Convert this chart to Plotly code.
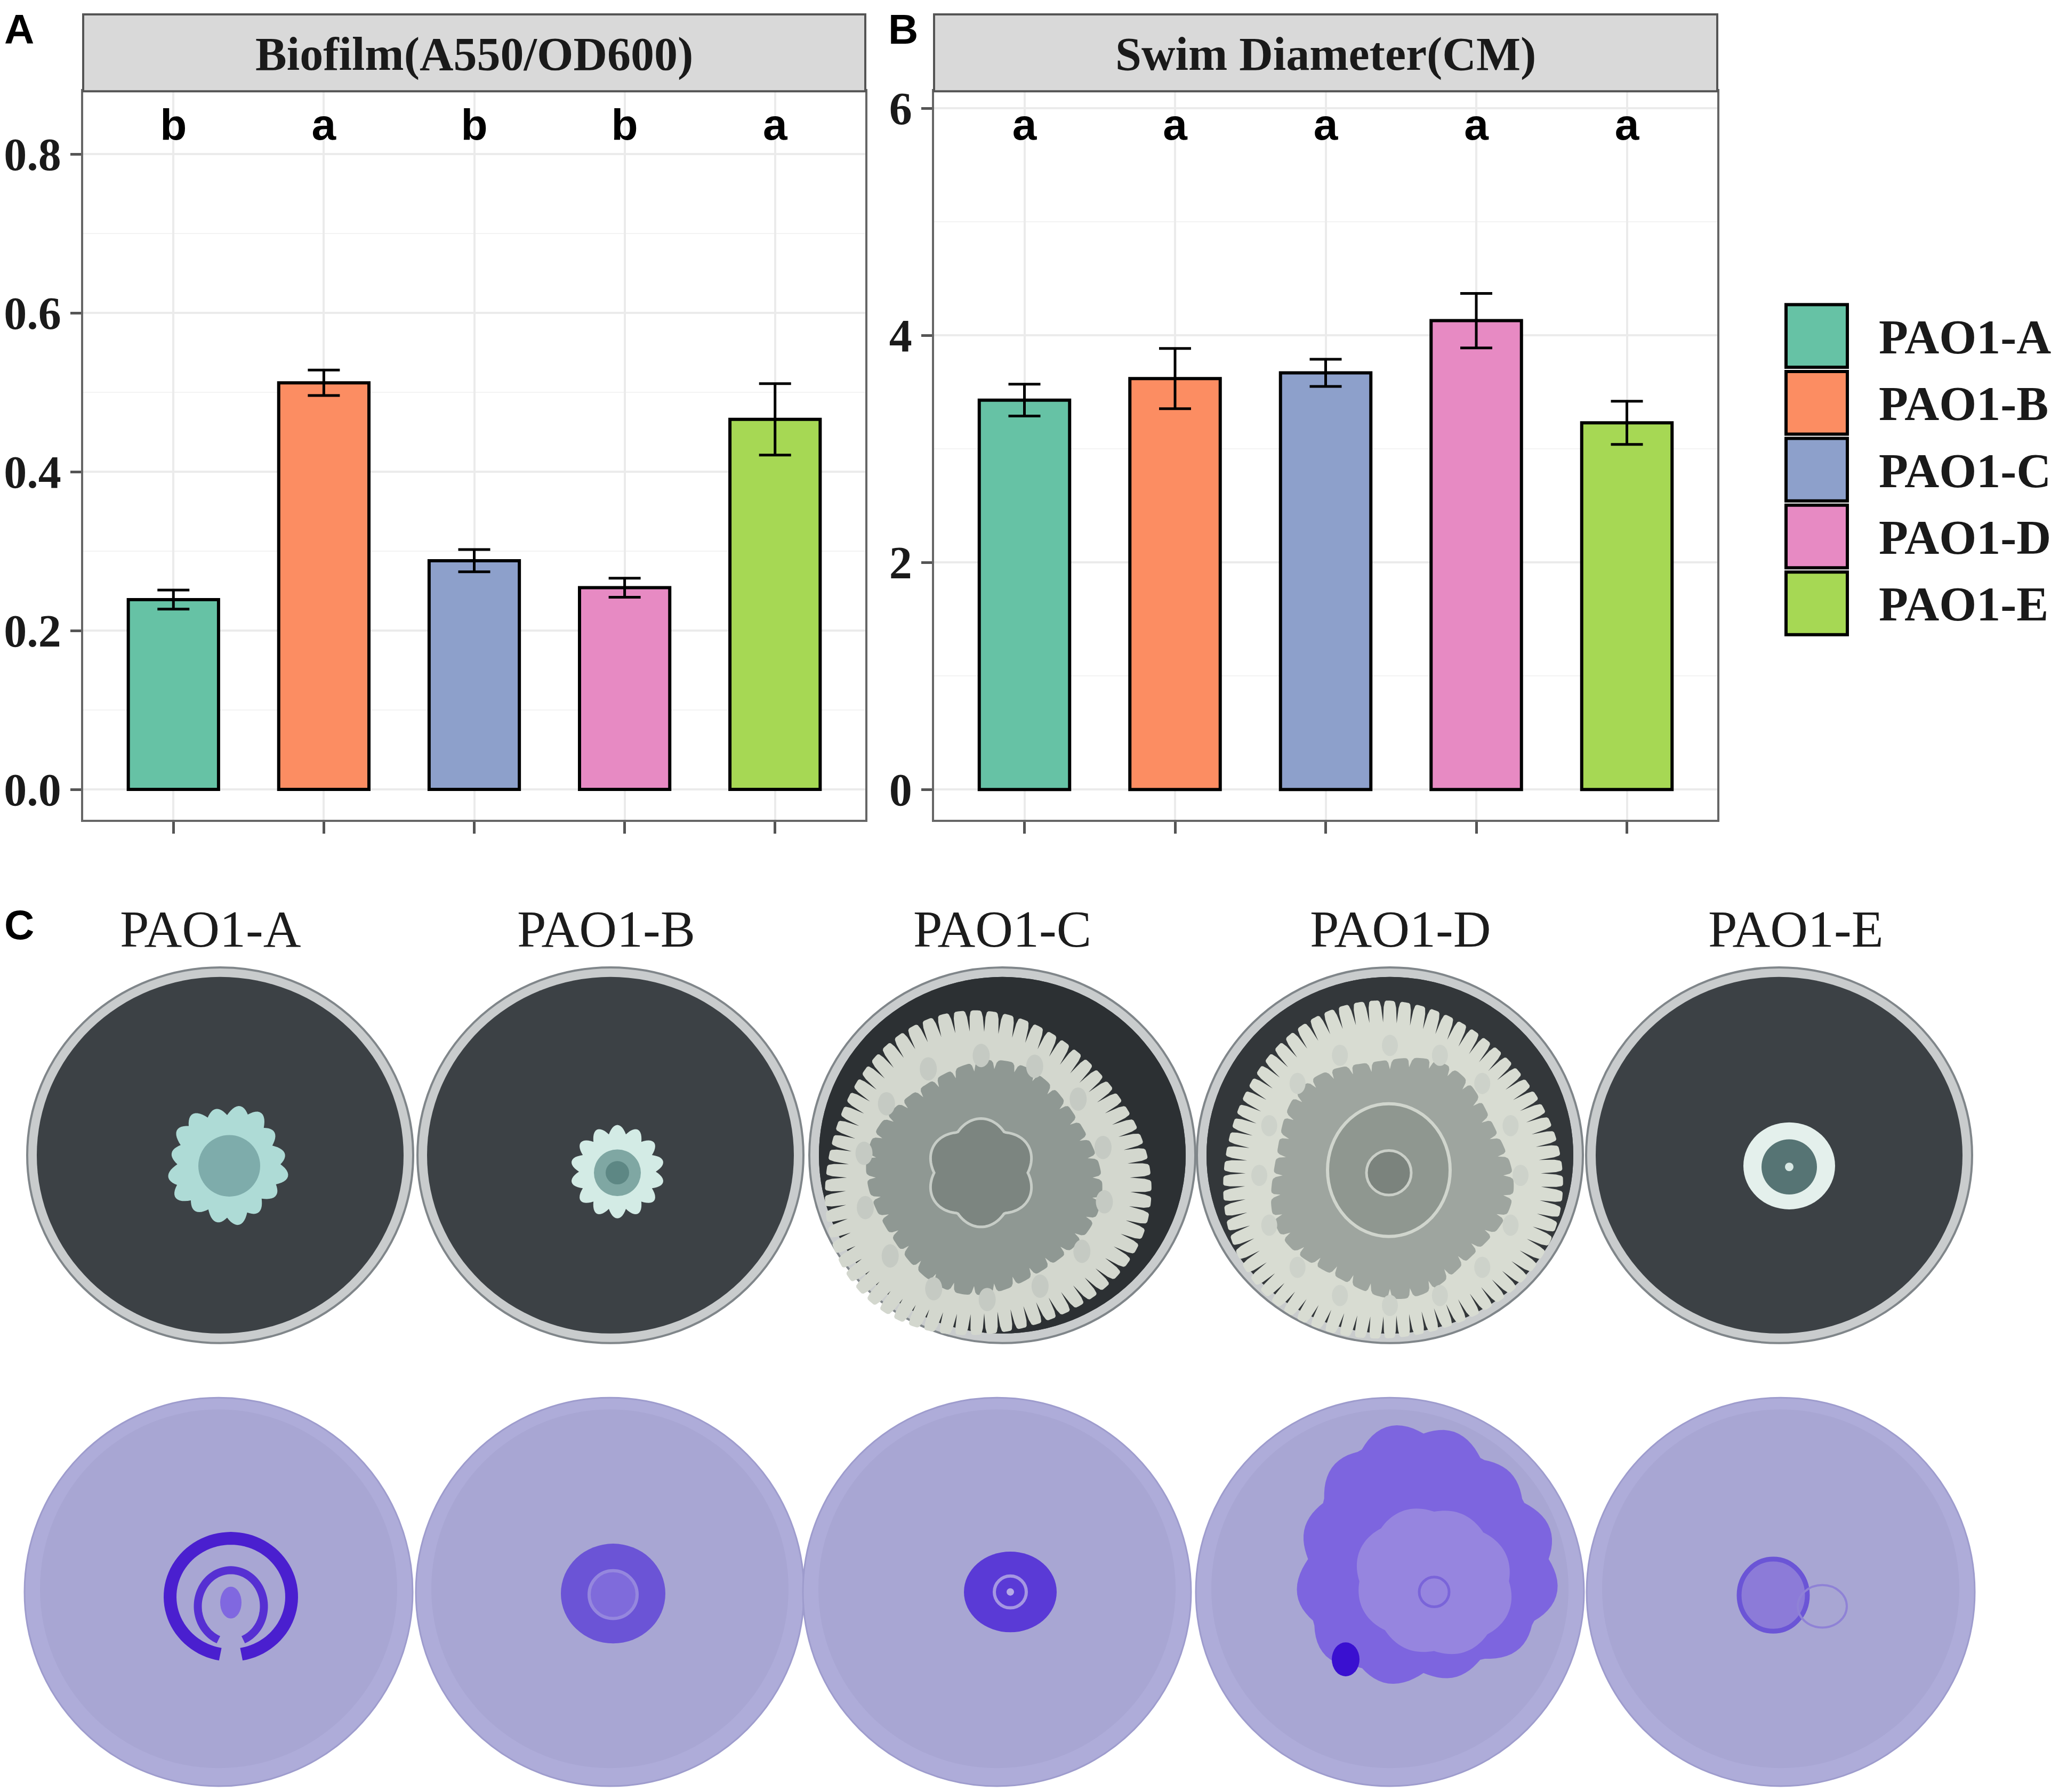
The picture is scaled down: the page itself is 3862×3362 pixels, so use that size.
import math
import plotly.graph_objects as go

W, H = 3862, 3362

# ---- data ----
strains = ["PAO1-A", "PAO1-B", "PAO1-C", "PAO1-D", "PAO1-E"]
colors = ["#66C2A5", "#FC8D62", "#8DA0CB", "#E78AC3", "#A6D854"]

biofilm = [0.239, 0.512, 0.288, 0.254, 0.466]
biofilm_err = [0.012, 0.016, 0.014, 0.012, 0.045]
biofilm_letters = ["b", "a", "b", "b", "a"]
biofilm_letter_y = 0.832

swim = [3.43, 3.62, 3.67, 4.13, 3.23]
swim_err = [0.14, 0.265, 0.12, 0.24, 0.19]
swim_letters = ["a", "a", "a", "a", "a"]
swim_letter_y = 5.82

serif_bold = dict(family="Liberation Serif, Times New Roman, serif", size=90, color="#1a1a1a", weight="bold")
sans_bold = dict(family="Liberation Sans, Arial, sans-serif", size=82, color="black", weight="bold")


def px(x):
    return x / W


def py(y):
    return 1 - y / H


fig = go.Figure()

# bars + error bars + significance letters, one set per panel
for vals, errs, letters, ly, xa, ya in [
    (biofilm, biofilm_err, biofilm_letters, biofilm_letter_y, "x", "y"),
    (swim, swim_err, swim_letters, swim_letter_y, "x2", "y2"),
]:
    fig.add_trace(go.Bar(
        x=strains, y=vals, width=0.6, xaxis=xa, yaxis=ya, showlegend=False,
        marker=dict(color=colors, line=dict(color="black", width=6)),
        error_y=dict(type="data", array=errs, color="black", thickness=5, width=30),
    ))
    fig.add_trace(go.Scatter(
        x=strains, y=[ly] * len(strains), text=letters, mode="text",
        textposition="middle center", textfont=sans_bold,
        xaxis=xa, yaxis=ya, showlegend=False, hoverinfo="skip",
    ))

# panel geometry (pixels)
plot_top, plot_bot, strip_top = 157, 1530, 12
panels = [(156, 1623, "Biofilm(A550/OD600)"), (1752, 3221, "Swim Diameter(CM)")]

xcommon = dict(range=[-0.6, 4.6], showticklabels=False, ticks="outside", ticklen=22,
               tickwidth=5, tickcolor="#555555", showgrid=True, gridcolor="#EBEBEB",
               gridwidth=4, zeroline=False, showline=True, linecolor="#666666",
               linewidth=4, mirror=True)
ycommon = dict(ticks="outside", ticklen=20, tickwidth=5, tickcolor="#555555",
               tickfont=dict(serif_bold, size=86), showgrid=True, gridcolor="#EBEBEB",
               gridwidth=4, zeroline=False, showline=True, linecolor="#666666",
               linewidth=4, mirror=True)

ydom = [py(plot_bot), py(plot_top)]
fig.update_layout(
    xaxis=dict(xcommon, domain=[px(156), px(1623)], anchor="y"),
    yaxis=dict(ycommon, domain=ydom, range=[-0.0383, 0.879], tick0=0, dtick=0.2,
               tickformat=".1f", anchor="x",
               minor=dict(tick0=0, dtick=0.1, showgrid=True, gridcolor="#F3F3F3",
                          gridwidth=2, ticks="")),
    xaxis2=dict(xcommon, domain=[px(1752), px(3221)], anchor="y2"),
    yaxis2=dict(ycommon, domain=ydom, range=[-0.267, 6.15], tick0=0, dtick=2,
                anchor="x2",
                minor=dict(tick0=0, dtick=1, showgrid=True, gridcolor="#F3F3F3",
                           gridwidth=2, ticks="")),
)

shapes = []
annotations = []

# facet strips
for x0, x1, title in panels:
    shapes.append(dict(type="rect", xref="paper", yref="paper", x0=px(x0), x1=px(x1),
                       y0=py(plot_top), y1=py(strip_top), fillcolor="#D9D9D9",
                       line=dict(color="#555555", width=4), layer="above"))
    annotations.append(dict(text=title, xref="paper", yref="paper", x=px((x0 + x1) / 2),
                            y=py((plot_top + strip_top) / 2 + 2), showarrow=False,
                            xanchor="center", yanchor="middle",
                            font=dict(serif_bold, size=88)))

# legend (keys drawn as shapes)
for i, (name, c) in enumerate(zip(strains, colors)):
    top = 559 + 126 * i
    shapes.append(dict(type="rect", xref="paper", yref="paper", x0=px(3350), x1=px(3465),
                       y0=py(top + 118), y1=py(top), fillcolor=c,
                       line=dict(color="black", width=6), layer="above"))
    annotations.append(dict(text=name, xref="paper", yref="paper", x=px(3522),
                            y=py(top + 61), showarrow=False, xanchor="left",
                            yanchor="middle", font=serif_bold))

# panel letters
for lab, x, y in [("A", 36, 40), ("B", 1694, 40), ("C", 36, 1728)]:
    annotations.append(dict(text=lab, xref="paper", yref="paper", x=px(x), y=py(y),
                            showarrow=False, xanchor="center", yanchor="middle",
                            font=dict(sans_bold, size=78)))

# panel C column titles
title_x = [395, 1137, 1880, 2626, 3368]
for name, x in zip(strains, title_x):
    annotations.append(dict(text=name, xref="paper", yref="paper", x=px(x), y=py(1736),
                            showarrow=False, xanchor="center", yanchor="middle",
                            font=dict(family="Liberation Serif, Times New Roman, serif",
                                      size=98, color="#1c1c1c")))


# ---- panel C plate drawings ----
CLEAR = "rgba(0,0,0,0)"


def circ(cx, cy, rx, ry=None, fill=None, line=None, lw=0, opacity=1.0):
    ry = rx if ry is None else ry
    return dict(type="circle", xref="paper", yref="paper",
                x0=px(cx - rx), x1=px(cx + rx), y0=py(cy + ry), y1=py(cy - ry),
                fillcolor=fill or CLEAR, line=dict(color=line or CLEAR, width=lw),
                opacity=opacity, layer="above")


def blob(cx, cy, R, k, amp, fill, amp2=0.0, k2=5, notch=False, line=None, lw=0, opacity=1.0):
    n = max(160, k * 12)
    pts = []
    for j in range(n):
        t = 2 * math.pi * j / n
        if notch:
            bump = -amp * (1 - abs(math.sin(k * t / 2))) ** 4
        else:
            bump = amp * abs(math.sin(k * t / 2)) - amp / 2
        r = R * (1 + bump + amp2 * math.sin(k2 * t + 0.7))
        pts.append(f"{px(cx + r * math.cos(t)):.5f},{py(cy + r * math.sin(t)):.5f}")
    return dict(type="path", xref="paper", yref="paper",
                path="M" + " L".join(pts) + " Z", fillcolor=fill,
                line=dict(color=line or CLEAR, width=lw), opacity=opacity, layer="above")


def arc(cx, cy, rx, ry, a0, a1, color, lw):
    n = 90
    pts = []
    for j in range(n + 1):
        t = math.radians(a0 + (a1 - a0) * j / n)
        pts.append(f"{px(cx + rx * math.cos(t)):.5f},{py(cy + ry * math.sin(t)):.5f}")
    return dict(type="path", xref="paper", yref="paper", path="M" + " L".join(pts),
                fillcolor=CLEAR, line=dict(color=color, width=lw), layer="above")


row1_y, row2_y = 2162, 2985
row1_x = [413, 1145, 1880, 2607, 3337]
row2_x = [410, 1144, 1870, 2607, 3340]

# swim plates (dark agar)
for x in row1_x:
    shapes.append(circ(x, row1_y, 362, 354, fill="#c9cccd", line="#80868a", lw=4))
    shapes.append(circ(x, row1_y, 344, 336, fill="#3c4145"))
shapes.append(circ(1880, row1_y, 344, 336, fill="#2c3033"))
shapes.append(circ(2607, row1_y, 344, 336, fill="#33373a"))

# PAO1-A swim colony
shapes.append(blob(426, 2179, 104, 16, 0.14, "#aedbd6", amp2=0.05))
shapes.append(circ(430, 2182, 58, fill="#6d9c9c", opacity=0.75))
# PAO1-B
shapes.append(blob(1158, 2193, 80, 14, 0.2, "#d3ebe5"))
shapes.append(circ(1158, 2195, 44, fill="#7fa7a3"))
shapes.append(circ(1158, 2195, 22, fill="#5d8784"))
# PAO1-C
shapes.append(blob(1846, 2204, 305, 64, 0.13, "#d3d7ce", amp2=0.04, k2=3, notch=True))
shapes.append(blob(1846, 2204, 215, 34, 0.08, "#8f9893", amp2=0.04, k2=4, notch=True))
for j in range(14):
    t = 2 * math.pi * j / 14 + 0.2
    shapes.append(circ(1846 + 230 * math.cos(t), 2204 + 230 * math.sin(t), 16, 22,
                       fill="#c5cac3"))
shapes.append(blob(1840, 2195, 95, 6, 0.15, "#7c8580", line="#c6ccc6", lw=5))
# PAO1-D
shapes.append(blob(2607, 2196, 318, 70, 0.13, "#d8dcd2", amp2=0.03, k2=3, notch=True))
shapes.append(blob(2607, 2200, 225, 36, 0.08, "#9ea59f", amp2=0.04, k2=5, notch=True))
for j in range(16):
    t = 2 * math.pi * j / 16
    shapes.append(circ(2607 + 245 * math.cos(t), 2200 + 245 * math.sin(t), 15, 20,
                       fill="#cdd2ca"))
shapes.append(circ(2605, 2190, 115, 125, fill="#8f9790", line="#d0d5cd", lw=6))
shapes.append(circ(2605, 2195, 42, fill="#7b837d", line="#c9cec7", lw=5))
# PAO1-E
shapes.append(circ(3356, 2182, 86, 82, fill="#e4f0ec"))
shapes.append(circ(3356, 2184, 52, fill="#567474"))
shapes.append(circ(3356, 2184, 8, fill="#d8e8e4"))

# biofilm plates (crystal violet)
for x in row2_x:
    shapes.append(circ(x, row2_y, 364, 366, fill="#aeacd9", line="#9e9ccd", lw=3))
    shapes.append(circ(x, row2_y - 6, 335, 338, fill="#a8a6d3"))

# PAO1-A stain: open outer ring with inner horseshoe
shapes.append(arc(433, 2994, 114, 110, 100, 440, "#4a1fcf", 24))
shapes.append(arc(433, 3012, 62, 68, 112, 428, "#5630d2", 15))
shapes.append(circ(433, 3005, 20, 30, fill="#8068e0"))
# PAO1-B
shapes.append(circ(1150, 2988, 98, 94, fill="#6b54d6"))
shapes.append(circ(1150, 2990, 45, fill="#7f6bdb", line="#9587de", lw=6))
# PAO1-C
shapes.append(circ(1895, 2985, 87, 76, fill="#5a3ad6"))
shapes.append(circ(1895, 2985, 30, line="#a597e2", lw=6))
shapes.append(circ(1895, 2985, 7, fill="#b5aae6"))
# PAO1-D
shapes.append(blob(2670, 2923, 235, 12, 0.08, "#7a5fe0", amp2=0.06, k2=3, opacity=0.92))
shapes.append(blob(2690, 2965, 140, 8, 0.06, "#9685df", amp2=0.05, k2=2))
shapes.append(circ(2690, 2985, 28, line="#7a64d9", lw=5))
shapes.append(circ(2524, 3112, 26, 32, fill="#3a10d0"))
# PAO1-E
shapes.append(circ(3326, 2991, 64, 68, fill="#8c7bd8", line="#6b55d6", lw=9))
shapes.append(circ(3418, 3012, 46, 40, line="#8f82d6", lw=4))

fig.update_layout(
    width=W, height=H, margin=dict(l=0, r=0, t=0, b=0, pad=0),
    paper_bgcolor="white", plot_bgcolor="white",
    shapes=shapes, annotations=annotations, showlegend=False,
)

fig.write_html("out.html", config={"displayModeBar": False},
               post_script="document.body.style.margin='0';")
